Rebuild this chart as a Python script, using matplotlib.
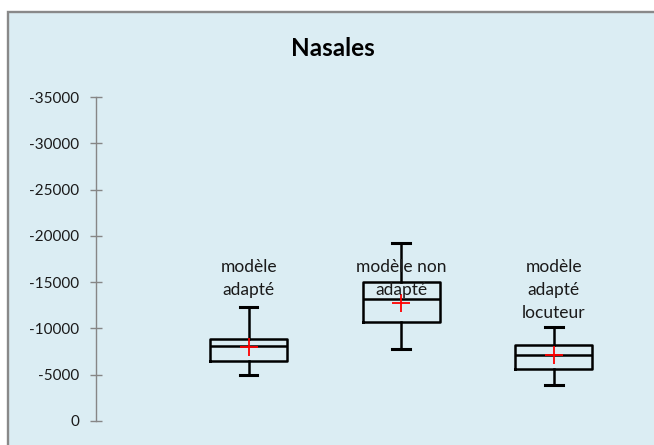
import matplotlib.pyplot as plt
from matplotlib.patches import Rectangle

plt.rcParams['font.family'] = ['Lato', 'DejaVu Sans']

# data
labels = ['modèle\nadapté', 'modèle non\nadapté', 'modèle\nadapté\nlocuteur']
whis_lo = [-4940, -7810, -3920]
q1 = [-6450, -10660, -5580]
med = [-8100, -13150, -7130]
q3 = [-8860, -15050, -8170]
whis_hi = [-12300, -19190, -10150]
means = [-7960, -12710, -7100]
yticks = [0, -5000, -10000, -15000, -20000, -25000, -30000, -35000]

stats = []
for i in range(len(labels)):
    stats.append(dict(whislo=whis_lo[i], q1=q1[i], med=med[i], q3=q3[i],
                      whishi=whis_hi[i], mean=means[i], fliers=[]))

fig = plt.figure(figsize=(6.54, 4.45), dpi=100)
fig.patch.set_facecolor('white')
bg = Rectangle((8 / 654, -0.1), 1.1, 0.973 + 0.1, transform=fig.transFigure,
               facecolor='#dbedf3', edgecolor='#898989', linewidth=1.7, zorder=-5)
fig.patches.append(bg)

ax = fig.add_axes([96 / 654, 24 / 445, 0.84, 0.728])
ax.set_zorder(2)
ax.patch.set_alpha(0)

pos = [1, 2, 3]
ax.bxp(stats, positions=pos, widths=0.505, showmeans=True, showfliers=False,
       boxprops=dict(color='black', linewidth=1.8),
       medianprops=dict(color='black', linewidth=1.8),
       whiskerprops=dict(color='black', linewidth=1.8),
       capprops=dict(color='black', linewidth=2.2),
       capwidths=0.116,
       meanprops=dict(marker='+', markeredgecolor='red', markersize=13,
                      markeredgewidth=1.3))

for x, lab in zip(pos, labels):
    ax.text(x, -17550, lab, ha='center', va='top', fontsize=12.5,
            color='#1a1a1a', linespacing=1.55)

ax.set_xlim(0, 3.6)
ax.set_ylim(0, -35000)
ax.set_yticks(yticks)
ax.set_yticklabels([str(v) for v in yticks])
ax.set_xticks([])
for s in ['top', 'right', 'bottom']:
    ax.spines[s].set_visible(False)
ax.spines['left'].set_color('#868686')
ax.spines['left'].set_linewidth(1.0)
ax.tick_params(axis='y', direction='inout', length=8, width=1.0,
               color='#868686', pad=8, labelsize=11, labelcolor='#1a1a1a')

fig.text(333 / 654, 1 - 49 / 445, 'Nasales', ha='center', va='center',
         fontsize=17.5, fontweight='bold', color='black', zorder=3)

fig.savefig('out.png', dpi=100)
